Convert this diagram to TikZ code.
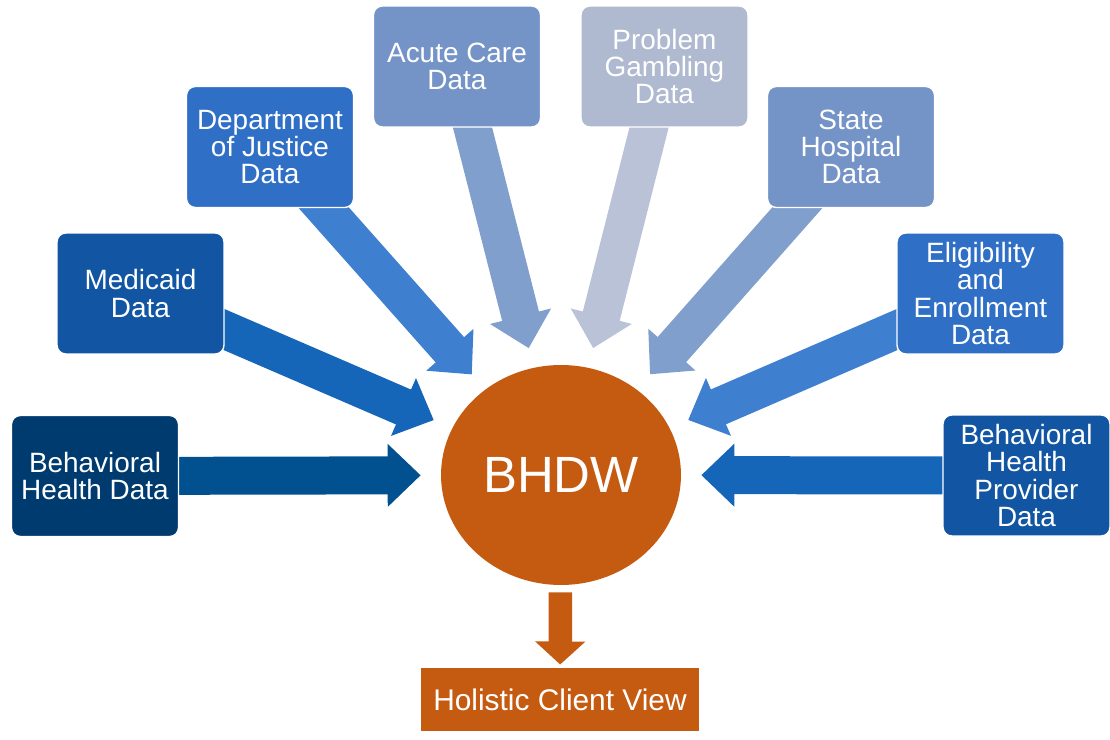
\documentclass[tikz,border=0pt]{standalone}
\usepackage{fontspec}
\setmainfont{Liberation Sans}
\usetikzlibrary{positioning,backgrounds,arrows.meta,shapes.geometric}

\definecolor{navy}{RGB}{0,59,111}
\definecolor{navyarr}{RGB}{1,80,143}
\definecolor{midblue}{RGB}{18,85,163}
\definecolor{midarr}{RGB}{21,101,185}
\definecolor{brblue}{RGB}{47,111,198}
\definecolor{brarr}{RGB}{62,127,208}
\definecolor{softblue}{RGB}{116,147,199}
\definecolor{softarr}{RGB}{128,159,205}
\definecolor{greyblue}{RGB}{175,185,207}
\definecolor{greyarr}{RGB}{185,194,214}
\definecolor{bhorange}{RGB}{197,90,17}

\begin{document}
\begin{tikzpicture}[x=0.02cm, y=-0.02cm,
    src/.style={draw=white, line width=0.8pt, rounded corners=5pt, fill=#1, text=white,
                align=center, minimum width=3.34cm, minimum height=2.42cm, inner sep=2pt,
                font=\fontsize{15.9}{15.4}\selectfont},
    hub/.style={ellipse, fill=bhorange, text=white, minimum width=4.8cm, minimum height=4.4cm,
                font=\fontsize{29}{30}\selectfont},
    res/.style={fill=bhorange, draw=white, line width=0.6pt, text=white, minimum width=5.6cm,
                minimum height=1.3cm, font=\fontsize{17}{18}\selectfont},
    feed/.style={draw=#1, line width=0.76cm, -{Triangle[length=0.66cm, width=1.22cm]},
                 shorten <=-0.5cm, shorten >=0.4cm},
    viewarrow/.style={draw=bhorange, line width=0.47cm, -{Triangle[length=0.46cm, width=0.98cm]},
                shorten <=0.14cm, shorten >=0.04cm},
]
\useasboundingbox (0,0) rectangle (1110,740);

% hub and result
\node[hub] (bhdw) at (561,475) {BHDW};
\node[res] (view) at (560,699.5) {Holistic Client View};

% data sources, left half
\node[src=navy] (bhdata) at (95,476) {Behavioral\\Health Data};
\node[src=midblue] (medicaid) at (140.5,293.5) {Medicaid\\Data};
\node[src=brblue] (doj) at (270,147) {Department\\of Justice\\Data};
\node[src=softblue] (acute) at (457,66.5) {Acute Care\\Data};

% data sources, right half
\node[src=greyblue] (gambling) at (664.5,66.5) {Problem\\Gambling\\Data};
\node[src=softblue] (statehosp) at (851,147) {State\\Hospital\\Data};
\node[src=brblue] (elig) at (980.5,293.5) {Eligibility\\and\\Enrollment\\Data};
\node[src=midblue] (provider) at (1026.5,475.5) {Behavioral\\Health\\Provider\\Data};

\begin{scope}[on background layer]
    \draw[feed=navyarr] (bhdata) -- (bhdw);
    \draw[feed=midarr] (medicaid) -- (bhdw);
    \draw[feed=brarr] (doj) -- (bhdw);
    \draw[feed=softarr] (acute) -- (bhdw);
    \draw[feed=greyarr] (gambling) -- (bhdw);
    \draw[feed=softarr] (statehosp) -- (bhdw);
    \draw[feed=brarr] (elig) -- (bhdw);
    \draw[feed=midarr] (provider) -- (bhdw);
\end{scope}
\draw[viewarrow] (bhdw) -- (view);
\end{tikzpicture}
\end{document}
